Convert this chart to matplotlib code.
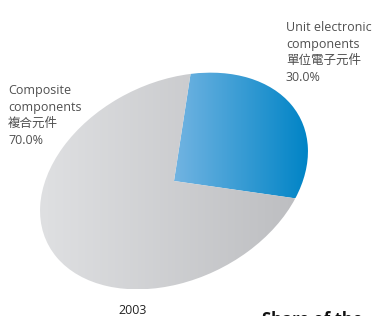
import numpy as np
import matplotlib
matplotlib.use("Agg")
import matplotlib.pyplot as plt
from matplotlib.transforms import Affine2D
from matplotlib.colors import to_rgb

# data
categories = ["Unit electronic\ncomponents\n單位電子元件", "Composite\ncomponents\n複合元件"]
shares = [30.0, 70.0]
year = "2003"

W, H = 376, 316
FONT = ["Open Sans", "Noto Sans CJK TC", "DejaVu Sans"]
TXT = "#505050"

# gradient ends (left -> right) for each slice
grad_colors = [("#72b4e2", "#0084c6"), ("#dfe0e2", "#bdbec1")]


def gradient(c0, c1, n=256):
    a = np.array(to_rgb(c0))
    b = np.array(to_rgb(c1))
    t = np.linspace(0, 1, n)[:, None]
    return (a + (b - a) * t)[None, :, :]


fig = plt.figure(figsize=(W / 100, H / 100), dpi=100)
ax = fig.add_axes([0, 0, 1, 1])

wedges, _ = ax.pie(shares, startangle=-44, radius=1,
                   wedgeprops=dict(linewidth=0))

# squash the round pie into the tilted ellipse
ell = Affine2D().scale(141, 99).rotate_deg(26).translate(174, H - 181)
for w, (c0, c1) in zip(wedges, grad_colors):
    w.set_transform(ell + ax.transData)
    w.set_facecolor("none")
    bb = w.get_path().transformed(ell).get_extents()
    im = ax.imshow(gradient(c0, c1), extent=(bb.x0, bb.x1, bb.y0, bb.y1),
                   aspect="auto", interpolation="bilinear", zorder=1)
    im.set_clip_path(w)

ax.text(286, H - 21, categories[0] + "\n%.1f%%" % shares[0], family=FONT,
        fontsize=9, color=TXT, va="top", ha="left", linespacing=1.36)
ax.text(8, H - 84, categories[1] + "\n%.1f%%" % shares[1], family=FONT,
        fontsize=9, color=TXT, va="top", ha="left", linespacing=1.36)
ax.text(133, H - 304, year, family=FONT, fontsize=9, color="#222222",
        va="top", ha="center")
ax.text(262, H - 311, "Share of the", family=FONT, fontsize=12,
        fontweight="bold", color="#111111", va="top", ha="left")

ax.set_xlim(0, W)
ax.set_ylim(0, H)
ax.axis("off")
fig.savefig("out.png", dpi=100)
